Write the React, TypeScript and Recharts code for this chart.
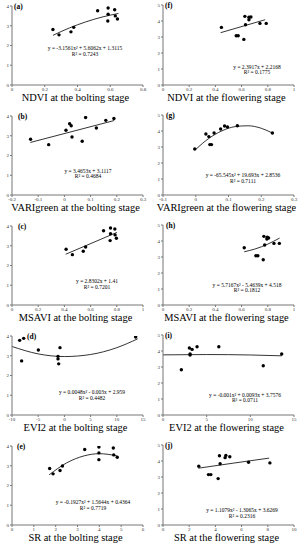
import React from 'react';
import { ComposedChart, Scatter, Line, XAxis, YAxis } from 'recharts';

type P = { x: number; y: number };

// (a) NDVI bolting
const aPoints: P[] = [
  { x: 0.25, y: 2.81 }, { x: 0.287, y: 2.54 }, { x: 0.36, y: 2.69 }, { x: 0.377, y: 2.92 },
  { x: 0.523, y: 3.76 }, { x: 0.587, y: 3.9 }, { x: 0.587, y: 3.58 }, { x: 0.585, y: 3.24 },
  { x: 0.627, y: 3.81 }, { x: 0.631, y: 3.5 }, { x: 0.644, y: 3.34 },
];
const aTrend: P[] = [
  { x: 0.25, y: 2.515 }, { x: 0.35, y: 2.887 }, { x: 0.45, y: 3.195 }, { x: 0.55, y: 3.44 }, { x: 0.65, y: 3.622 },
];
// (f) NDVI flowering
const fPoints: P[] = [
  { x: 0.446, y: 3.6 }, { x: 0.559, y: 3.08 }, { x: 0.574, y: 3.08 }, { x: 0.617, y: 2.85 },
  { x: 0.625, y: 4.29 }, { x: 0.63, y: 3.77 }, { x: 0.656, y: 4.23 }, { x: 0.656, y: 4.08 },
  { x: 0.671, y: 4.25 }, { x: 0.74, y: 3.85 }, { x: 0.788, y: 3.85 },
];
const fTrend: P[] = [{ x: 0.44, y: 3.27 }, { x: 0.78, y: 4.08 }];
// (b) VARIgreen bolting
const bPoints: P[] = [
  { x: -0.129, y: 2.82 }, { x: -0.06, y: 2.55 }, { x: 0.006, y: 3.28 }, { x: 0.02, y: 3.61 },
  { x: 0.026, y: 3.51 }, { x: 0.029, y: 2.94 }, { x: 0.068, y: 2.72 }, { x: 0.081, y: 3.92 },
  { x: 0.122, y: 3.39 }, { x: 0.158, y: 3.78 }, { x: 0.189, y: 3.87 },
];
const bTrend: P[] = [{ x: -0.13, y: 2.66 }, { x: 0.19, y: 3.77 }];
// (g) VARIgreen flowering
const gPoints: P[] = [
  { x: -0.003, y: 2.875 }, { x: 0.031, y: 3.81 }, { x: 0.04, y: 3.65 }, { x: 0.043, y: 3.15 },
  { x: 0.048, y: 3.15 }, { x: 0.056, y: 3.875 }, { x: 0.076, y: 4.125 }, { x: 0.088, y: 4.31 },
  { x: 0.097, y: 4.25 }, { x: 0.127, y: 4.33 }, { x: 0.234, y: 3.875 },
];
const gTrend: P[] = [
  { x: 0, y: 2.854 }, { x: 0.04, y: 3.537 }, { x: 0.08, y: 4.01 }, { x: 0.12, y: 4.273 },
  { x: 0.16, y: 4.327 }, { x: 0.2, y: 4.171 }, { x: 0.235, y: 3.862 },
];
// (c) MSAVI bolting
const cPoints: P[] = [
  { x: 0.413, y: 2.82 }, { x: 0.461, y: 2.55 }, { x: 0.544, y: 2.72 }, { x: 0.562, y: 2.94 },
  { x: 0.699, y: 3.76 }, { x: 0.752, y: 3.9 }, { x: 0.752, y: 3.61 }, { x: 0.749, y: 3.26 },
  { x: 0.785, y: 3.85 }, { x: 0.787, y: 3.55 }, { x: 0.797, y: 3.38 },
];
const cTrend: P[] = [{ x: 0.41, y: 2.57 }, { x: 0.8, y: 3.674 }];
// (h) MSAVI flowering
const hPoints: P[] = [
  { x: 0.62, y: 3.58 }, { x: 0.709, y: 3.08 }, { x: 0.724, y: 3.08 }, { x: 0.765, y: 2.83 },
  { x: 0.77, y: 4.29 }, { x: 0.776, y: 3.75 }, { x: 0.796, y: 4.23 }, { x: 0.793, y: 4.125 },
  { x: 0.806, y: 4.19 }, { x: 0.847, y: 3.85 }, { x: 0.888, y: 3.85 },
];
const hTrend: P[] = [
  { x: 0.62, y: 3.328 }, { x: 0.7, y: 3.494 }, { x: 0.8, y: 3.806 }, { x: 0.89, y: 4.183 },
];
// (d) EVI2 bolting
const dPoints: P[] = [
  { x: -8.54, y: 3.78 }, { x: -7.77, y: 3.88 }, { x: -8.16, y: 2.74 }, { x: -4.97, y: 3.29 },
  { x: -1.22, y: 2.97 }, { x: -1.22, y: 2.84 }, { x: -1.09, y: 2.59 }, { x: -0.84, y: 3.41 },
  { x: 13.6, y: 3.95 },
];
const dTrend: P[] = [
  { x: -10, y: 3.469 }, { x: -5, y: 3.094 }, { x: 0, y: 2.959 }, { x: 5, y: 3.064 },
  { x: 10, y: 3.409 }, { x: 14, y: 3.858 },
];
// (i) EVI2 flowering
const iPoints: P[] = [
  { x: 2.1, y: 2.83 }, { x: 3.02, y: 4.19 }, { x: 3.1, y: 3.81 }, { x: 3.1, y: 3.75 },
  { x: 3.33, y: 4.1 }, { x: 3.9, y: 4.27 }, { x: 6.39, y: 4.27 }, { x: 11.48, y: 3.08 },
  { x: 13.59, y: 3.81 },
];
const iTrend: P[] = [
  { x: 0, y: 3.758 }, { x: 5, y: 3.779 }, { x: 10, y: 3.751 }, { x: 13.6, y: 3.699 },
];
// (e) SR bolting
const ePoints: P[] = [
  { x: 1.725, y: 2.86 }, { x: 1.88, y: 2.59 }, { x: 2.2, y: 2.76 }, { x: 2.31, y: 2.99 },
  { x: 3.33, y: 3.82 }, { x: 3.98, y: 3.95 }, { x: 3.98, y: 3.65 }, { x: 3.98, y: 3.31 },
  { x: 4.64, y: 3.9 }, { x: 4.66, y: 3.55 }, { x: 4.82, y: 3.43 },
];
const eTrend: P[] = [
  { x: 1.7, y: 2.539 }, { x: 2.5, y: 3.143 }, { x: 3.3, y: 3.5 }, { x: 4, y: 3.611 }, { x: 4.8, y: 3.505 },
];
// (j) SR flowering
const jPoints: P[] = [
  { x: 2.73, y: 3.67 }, { x: 3.47, y: 3.15 }, { x: 3.65, y: 3.15 }, { x: 4.21, y: 2.9 },
  { x: 4.31, y: 4.33 }, { x: 4.36, y: 3.83 }, { x: 4.74, y: 4.21 }, { x: 4.8, y: 4.35 },
  { x: 5.1, y: 4.27 }, { x: 6.53, y: 3.92 }, { x: 8.16, y: 3.88 },
];
const jTrend: P[] = [{ x: 2.7, y: 3.55 }, { x: 5.4, y: 3.87 }, { x: 8.1, y: 4.18 }];

const ticks01 = [0, 0.2, 0.4, 0.6, 0.8, 1];
const ticks08 = [0, 0.2, 0.4, 0.6, 0.8];
const ticksVb = [-0.2, -0.1, 0, 0.1, 0.2, 0.3];
const ticksVf = [-0.1, 0, 0.1, 0.2, 0.3];
const ticksEb = [-10, -5, 0, 5, 10, 15];
const ticksEf = [0, 5, 10, 15];
const ticksSb = [0, 1, 2, 3, 4, 5, 6];
const ticksSf = [0, 2, 4, 6, 8, 10];
const yTicks4 = [0, 1, 2, 3, 4];
const yTicks5 = [0, 1, 2, 3, 4, 5];

type Panel = {
  id: string; col: number; row: number; points: P[]; trend: P[]; xTicks: number[]; yTicks: number[];
  eq: string; r2: string; title: string; labelX: number; eqX: number; eqY: number;
};

const panels: Panel[] = [
  { id: '(a)', col: 0, row: 0, points: aPoints, trend: aTrend, xTicks: ticks08, yTicks: yTicks4,
    eq: 'y = -3.1561x² + 5.6062x + 1.3115', r2: 'R² = 0.7243', title: 'NDVI at the bolting stage', labelX: 14, eqX: 85, eqY: 49 },
  { id: '(f)', col: 1, row: 0, points: fPoints, trend: fTrend, xTicks: ticks01, yTicks: yTicks5,
    eq: 'y = 2.3917x + 2.2168', r2: 'R² = 0.1775', title: 'NDVI at the flowering stage', labelX: 15, eqX: 107, eqY: 67.5 },
  { id: '(b)', col: 0, row: 1, points: bPoints, trend: bTrend, xTicks: ticksVb, yTicks: yTicks4,
    eq: 'y = 3.4653x + 3.1117', r2: 'R² = 0.4684', title: 'VARIgreen at the bolting stage', labelX: 18, eqX: 88, eqY: 61.5 },
  { id: '(g)', col: 1, row: 1, points: gPoints, trend: gTrend, xTicks: ticksVf, yTicks: yTicks5,
    eq: 'y = -65.545x² + 19.693x + 2.8536', r2: 'R² = 0.7111', title: 'VARIgreen at the flowering stage', labelX: 16, eqX: 93, eqY: 66 },
  { id: '(c)', col: 0, row: 2, points: cPoints, trend: cTrend, xTicks: ticks01, yTicks: yTicks4,
    eq: 'y = 2.8302x + 1.41', r2: 'R² = 0.7201', title: 'MSAVI at the bolting stage', labelX: 18, eqX: 97, eqY: 62 },
  { id: '(h)', col: 1, row: 2, points: hPoints, trend: hTrend, xTicks: ticks01, yTicks: yTicks5,
    eq: 'y = 5.7167x² - 5.4639x + 4.518', r2: 'R² = 0.1812', title: 'MSAVI at the flowering stage', labelX: 16, eqX: 97, eqY: 65.5 },
  { id: '(d)', col: 0, row: 3, points: dPoints, trend: dTrend, xTicks: ticksEb, yTicks: yTicks4,
    eq: 'y = 0.0048x² - 0.003x + 2.959', r2: 'R² = 0.4482', title: 'EVI2 at the bolting stage', labelX: 27, eqX: 92, eqY: 63 },
  { id: '(i)', col: 1, row: 3, points: iPoints, trend: iTrend, xTicks: ticksEf, yTicks: yTicks5,
    eq: 'y = -0.001x² + 0.0093x + 3.7576', r2: 'R² = 0.0711', title: 'EVI2 at the flowering stage', labelX: 15, eqX: 95, eqY: 65.5 },
  { id: '(e)', col: 0, row: 4, points: ePoints, trend: eTrend, xTicks: ticksSb, yTicks: yTicks4,
    eq: 'y = -0.1927x² + 1.5644x + 0.4364', r2: 'R² = 0.7719', title: 'SR at the bolting stage', labelX: 17, eqX: 93, eqY: 63 },
  { id: '(j)', col: 1, row: 4, points: jPoints, trend: jTrend, xTicks: ticksSf, yTicks: yTicks5,
    eq: 'y = 1.1079x² - 1.3065x + 3.6269', r2: 'R² = 0.2316', title: 'SR at the flowering stage', labelX: 15, eqX: 92, eqY: 71 },
];

const FONT = '"Liberation Serif", "Times New Roman", serif';

const Dot = (props: any) => <circle cx={props.cx} cy={props.cy} r={1.7} fill="#000" />;

function PanelChart({ p }: { p: Panel }) {
  const left = p.col === 0;
  const yw = left ? 12 : 13;
  const top = left ? 6 : 5;
  const right = 150 - (left ? 143 : 144);
  const xmin = p.xTicks[0];
  const xmax = p.xTicks[p.xTicks.length - 1];
  const ymax = p.yTicks[p.yTicks.length - 1];
  const plotCenter = (yw + 150 - right) / 2;
  return (
    <div style={{ position: 'absolute', left: p.col * 150, top: p.row * 110, width: 150, height: 110 }}>
      <ComposedChart width={150} height={110} margin={{ top, right, bottom: 17, left: 0 }}>
        <XAxis type="number" dataKey="x" domain={[xmin, xmax]} ticks={p.xTicks} interval={0}
          allowDataOverflow tick={{ fontSize: 5, fill: '#333', fontFamily: FONT }}
          tickSize={2} tickMargin={0.5} stroke="#777" height={8} />
        <YAxis type="number" dataKey="y" domain={[0, ymax]} ticks={p.yTicks} interval={0}
          allowDataOverflow tick={{ fontSize: 5, fill: '#333', fontFamily: FONT }}
          tickSize={2} tickMargin={1} stroke="#777" width={yw} />
        <Line data={p.trend} dataKey="y" type="monotone" stroke="#000" strokeWidth={0.8}
          dot={false} activeDot={false} isAnimationActive={false} />
        <Scatter data={p.points} dataKey="y" shape={Dot} isAnimationActive={false} />
      </ComposedChart>
      <div style={{ position: 'absolute', left: p.labelX, top: top - 4, fontFamily: FONT, fontWeight: 'bold', fontSize: 7.5, lineHeight: '9px' }}>{p.id}</div>
      <div style={{ position: 'absolute', left: p.eqX - 50, width: 100, top: p.eqY - 3, textAlign: 'center', fontFamily: FONT, fontSize: 5.5, lineHeight: '5.5px', whiteSpace: 'nowrap' }}>
        <div>{p.eq}</div>
        <div>{p.r2}</div>
      </div>
      <div style={{ position: 'absolute', left: plotCenter - 2 - 75, width: 150, top: 92, textAlign: 'center', fontFamily: FONT, fontSize: 10.4, lineHeight: '12px', whiteSpace: 'nowrap' }}>{p.title}</div>
    </div>
  );
}

export default function App() {
  return (
    <div style={{ position: 'absolute', left: 0, top: 0, width: 301, height: 550, background: '#fff', overflow: 'hidden' }}>
      {panels.map((p) => <PanelChart key={p.id} p={p} />)}
    </div>
  );
}
